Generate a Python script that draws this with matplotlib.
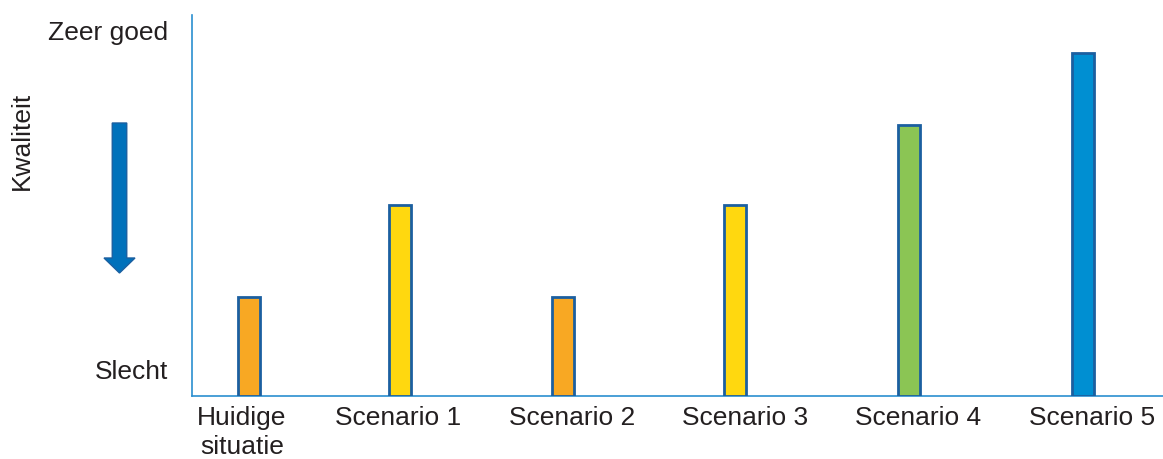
import matplotlib.pyplot as plt
from matplotlib.patches import FancyArrow

plt.rcParams['font.family'] = ['Liberation Sans', 'DejaVu Sans']

categories = ['Huidige\nsituatie', 'Scenario 1', 'Scenario 2', 'Scenario 3', 'Scenario 4', 'Scenario 5']
quality = [26, 50, 26, 50, 71, 90]
bar_colors = ['#F8A823', '#FFD80F', '#F8A823', '#FFD80F', '#8BC554', '#008FD2']
# bar centres and label centres are not evenly spaced in the original
xpos = [0, 0.904, 1.88, 2.91, 3.95, 4.99]
label_pos = [-0.042, 0.892, 1.934, 2.97, 4.006, 5.048]
level_ticks = [96, 7]
level_labels = ['Zeer goed', 'Slecht']


def plot_chart():
    fig = plt.figure(figsize=(11.63, 4.59), dpi=100)
    ax = fig.add_axes([0.1651, 0.1373, 0.8349, 0.83])

    ax.bar(xpos, quality, width=0.13, color=bar_colors,
           edgecolor='#1B5FA0', linewidth=2, zorder=3)

    ax.set_xlim(-0.341, 5.47)
    ax.set_ylim(0, 100)
    # ticks are invisible, so place them where the labels sit
    ax.set_xticks(label_pos)
    ax.set_xticklabels(categories, fontsize=19, color='#231F20', linespacing=1.3)
    ax.set_yticks(level_ticks)
    ax.set_yticklabels(level_labels, fontsize=19, color='#231F20')
    ax.tick_params(axis='both', length=0)
    ax.tick_params(axis='x', pad=7)
    ax.tick_params(axis='y', pad=17)

    for side in ['top', 'right']:
        ax.spines[side].set_visible(False)
    for side in ['left', 'bottom']:
        ax.spines[side].set_color('#2A8FD0')
        ax.spines[side].set_linewidth(1.2)

    fig.text(22 / 1163, 1 - 141 / 459, 'Kwaliteit', rotation=90,
             fontsize=19, color='#231F20', ha='center', va='center')

    arrow = FancyArrow(1.195, 3.36, 0, -1.50, width=0.145, head_width=0.31,
                       head_length=0.15, length_includes_head=True,
                       facecolor='#0071BB', edgecolor='#1B5FA0', linewidth=1,
                       transform=fig.dpi_scale_trans)
    fig.patches.append(arrow)

    fig.savefig('out.png', dpi=100)


def main():
    plot_chart()


if __name__ == "__main__":
    main()
